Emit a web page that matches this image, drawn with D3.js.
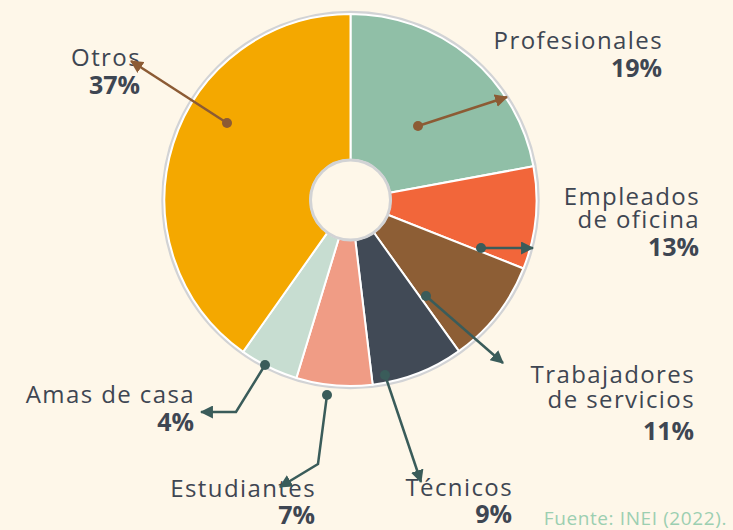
<!DOCTYPE html>
<html>
<head>
<meta charset="utf-8">
<script src="https://cdn.jsdelivr.net/npm/d3@7"></script>
<style>
  html, body { margin: 0; padding: 0; background: #fef7e9; }
  svg { display: block; }
  .lbl { font-family: "Open Sans", Lato, sans-serif; fill: #3e4652; }
</style>
</head>
<body>
<div id="chart"></div>
<script>
// categories, going clockwise from 12 o'clock
var categories = ["Profesionales", "Empleados de oficina", "Trabajadores de servicios",
                  "Técnicos", "Estudiantes", "Amas de casa", "Otros"];
// percentage printed next to each category
var labelPct = [19, 13, 11, 9, 7, 4, 37];
// share of the ring each slice takes in the drawing
var sliceShare = [22.1, 8.9, 9.1, 8.0, 6.6, 5.1, 40.2];
var sliceColors = ["#90bfa7", "#f2663a", "#8d5e35", "#414a56", "#f09c85", "#c7ddd1", "#f4a800"];

var width = 733, height = 530,
    cx = 350.5, cy = 200,
    outerR = 186, innerR = 40;

// label text lines + where the callouts sit (layout only)
var callouts = [
  { lines: ["Profesionales"], x: 663, y: 49, color: "#8c5b34",
    path: [[418, 126], [507, 97]] },
  { lines: ["Empleados", "de oficina"], x: 700, y: 205, lh: 23, color: "#3a5c5a",
    path: [[481, 248], [533, 248]] },
  { lines: ["Trabajadores", "de servicios"], x: 695, y: 383, lh: 25, pctGap: 32, color: "#3a5c5a",
    path: [[426, 296], [503, 363]] },
  { lines: ["Técnicos"], x: 513, y: 496, pctGap: 27, color: "#3a5c5a",
    path: [[385, 375], [421, 482]] },
  { lines: ["Estudiantes"], x: 316, y: 497, pctGap: 27, color: "#3a5c5a",
    path: [[327, 395], [318, 464], [280, 487]] },
  { lines: ["Amas de casa"], x: 195, y: 403, color: "#3a5c5a",
    path: [[265, 365], [236, 412], [201, 412]] },
  { lines: ["Otros"], x: 141, y: 66, color: "#8c5b34",
    path: [[227, 123], [131, 61]] }
];

var svg = d3.select("#chart").append("svg")
    .attr("width", width).attr("height", height);

var defs = svg.append("defs");
["#8c5b34", "#3a5c5a"].forEach(function (c, i) {
  defs.append("marker")
      .attr("id", "arrow" + i)
      .attr("viewBox", "0 0 12 12")
      .attr("refX", 11).attr("refY", 6)
      .attr("markerWidth", 13).attr("markerHeight", 13)
      .attr("markerUnits", "userSpaceOnUse")
      .attr("orient", "auto")
    .append("path")
      .attr("d", "M0,0 L12,6 L0,12 Z")
      .attr("fill", c);
});

var pie = d3.pie().sort(null).value(function (d) { return d; });
var arc = d3.arc().innerRadius(innerR).outerRadius(outerR);

var g = svg.append("g").attr("transform", "translate(" + cx + "," + cy + ")");

// grey rim
g.append("circle").attr("r", outerR + 1.5)
    .attr("fill", "none").attr("stroke", "#d2d3d5").attr("stroke-width", 3.5);

g.selectAll("path.slice")
    .data(pie(sliceShare))
  .enter().append("path")
    .attr("class", "slice")
    .attr("d", arc)
    .attr("fill", function (d, i) { return sliceColors[i]; })
    .attr("stroke", "#ffffff")
    .attr("stroke-width", 2)
    .attr("stroke-linejoin", "round");

// hole
g.append("circle").attr("r", innerR)
    .attr("fill", "#fef7e9").attr("stroke", "#d2d3d5").attr("stroke-width", 3);

// labels, one text per line
var lab = svg.append("g");
callouts.forEach(function (c, i) {
  var lh = c.lh || 24;
  c.lines.forEach(function (l, j) {
    lab.append("text").attr("class", "lbl")
        .attr("text-anchor", "end")
        .attr("x", c.x).attr("y", c.y + j * lh)
        .style("font-size", "24px")
        .style("letter-spacing", "1.4px")
        .text(l);
  });
  lab.append("text").attr("class", "lbl")
      .attr("text-anchor", "end")
      .attr("x", c.x - 1)
      .attr("y", c.y + (c.lines.length - 1) * lh + (c.pctGap || 28))
      .style("font-size", "25px")
      .style("font-weight", "bold")
      .text(labelPct[i] + "%");
});

// leader lines with dot + arrow
var line = d3.line();
callouts.forEach(function (c) {
  var mk = c.color === "#8c5b34" ? "url(#arrow0)" : "url(#arrow1)";
  svg.append("path")
      .attr("d", line(c.path))
      .attr("fill", "none")
      .attr("stroke", c.color)
      .attr("stroke-width", 2.5)
      .attr("marker-end", mk);
  svg.append("circle")
      .attr("cx", c.path[0][0]).attr("cy", c.path[0][1])
      .attr("r", 5)
      .attr("fill", c.color);
});

svg.append("text")
    .attr("x", 727).attr("y", 525)
    .attr("text-anchor", "end")
    .style("font-family", "\"Open Sans\", sans-serif")
    .style("font-size", "19px")
    .style("letter-spacing", "0.6px")
    .style("fill", "#9ccfb1")
    .text("Fuente: INEI (2022).");
</script>
</body>
</html>
